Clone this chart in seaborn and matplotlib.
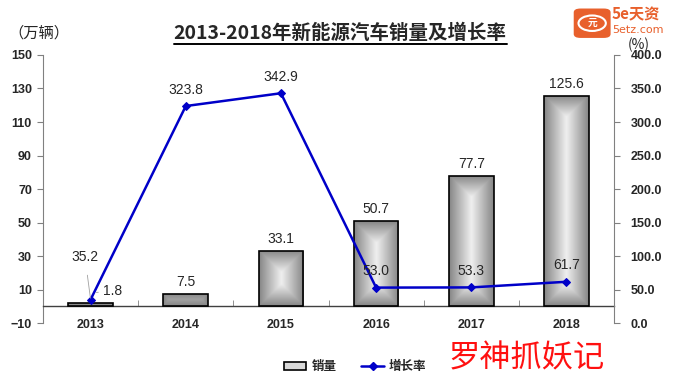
import numpy as np
import pandas as pd
import matplotlib
matplotlib.use('Agg')
import matplotlib.pyplot as plt
import seaborn as sns
from matplotlib.lines import Line2D
from matplotlib.patches import Patch, FancyBboxPatch, Circle
from matplotlib.ticker import FixedLocator, FormatStrFormatter

# 数据
years = ['2013', '2014', '2015', '2016', '2017', '2018']
sales = [1.8, 7.5, 33.1, 50.7, 77.7, 125.6]          # 万辆
growth = [35.2, 323.8, 342.9, 53.0, 53.3, 61.7]      # %

df = pd.DataFrame({'年份': years, '销量': sales, '增长率': growth})

sns.set_style('white')
plt.rcParams['font.family'] = ['Liberation Sans', 'Noto Sans CJK SC', 'DejaVu Sans']
cjk = ['Noto Sans CJK SC', 'DejaVu Sans']

fig = plt.figure(figsize=(6.83, 3.87), dpi=100)
ax = fig.add_axes([0.063, 0.165, 0.836, 0.693])

sns.barplot(data=df, x='年份', y='销量', ax=ax, width=0.47,
            facecolor='none', edgecolor='black', linewidth=1.2, zorder=4)

ax.set_ylim(-10, 150)
ax.set_xlim(-0.5, 5.5)
ax.set_yticks(np.arange(-10, 151, 20))
ax.set_xlabel('')
ax.set_ylabel('')

# 渐变填充柱子
fig.canvas.draw()
for p in ax.patches:
    x0, y0 = p.get_x(), p.get_y()
    w, h = p.get_width(), p.get_height()
    (px0, py0), (px1, py1) = ax.transData.transform([(x0, y0), (x0 + w, y0 + h)])
    wp, hp = max(int(abs(px1 - px0)), 2), max(int(abs(py1 - py0)), 2)
    xx, yy = np.meshgrid(np.arange(wp) + 0.5, np.arange(hp) + 0.5)
    d = np.minimum(np.minimum(xx, wp - xx), np.minimum(yy, hp - yy))
    t = np.clip(d / (wp / 2.0), 0, 1)
    g = 0.52 + 0.42 * t
    img = np.dstack([g, g, g])
    im = ax.imshow(img, extent=[x0, x0 + w, y0, y0 + h], origin='lower',
                   aspect='auto', zorder=3, interpolation='bilinear')
    im.set_clip_path(p)
    # 阴影
    sh = FancyBboxPatch((x0, y0), w, h, boxstyle='square,pad=0', transform=ax.transData,
                        facecolor='#b0b0b0', edgecolor='none', alpha=0.45, zorder=2)
    ax.add_patch(sh)
ax.set_xlim(-0.5, 5.5)
ax.set_ylim(-10, 150)

# 坐标轴样式
for s in ['top', 'right']:
    ax.spines[s].set_visible(False)
ax.spines['left'].set_color('#808080')
ax.spines['bottom'].set_position(('data', 0))
ax.spines['bottom'].set_color('#404040')
ax.spines['bottom'].set_linewidth(1.0)
ax.tick_params(axis='y', direction='out', length=4, color='#808080', left=True,
               labelsize=9, pad=4)
ax.tick_params(axis='x', which='major', length=0, labelsize=9, pad=9)
ax.xaxis.set_minor_locator(FixedLocator([0.5, 1.5, 2.5, 3.5, 4.5]))
ax.tick_params(axis='x', which='minor', direction='in', length=4, color='#808080', bottom=True)
for lab in ax.get_yticklabels() + ax.get_xticklabels():
    lab.set_fontweight('bold')

# 增长率折线
ax2 = ax.twinx()
sns.lineplot(data=df, x='年份', y='增长率', ax=ax2, color='#0000C8', linewidth=1.8,
             marker='D', markersize=4.5, markeredgecolor='#0000C8', sort=False, zorder=6)
ax2.set_ylim(0, 400)
ax2.set_yticks(np.arange(0, 401, 50))
ax2.yaxis.set_major_formatter(FormatStrFormatter('%.1f'))
ax2.set_ylabel('')
ax2.set_xlabel('')
for s in ['top', 'left', 'bottom']:
    ax2.spines[s].set_visible(False)
ax2.spines['right'].set_color('#808080')
ax2.tick_params(axis='y', direction='out', length=4, color='#808080', right=True,
                labelsize=9, pad=8)
for lab in ax2.get_yticklabels():
    lab.set_fontweight('bold')
ax2.set_zorder(ax.get_zorder() + 1)
ax2.patch.set_visible(False)

# 柱子数值标签
for i, v in enumerate(sales):
    if i == 0:
        ax.annotate(f'{v:.1f}', xy=(i + 0.06, v + 6.5), xytext=(i + 0.13, v + 7.5),
                    fontsize=10, ha='left', va='center',
                    arrowprops=dict(arrowstyle='-', color='#a0a0a0', lw=0.6,
                                    shrinkA=1, shrinkB=0), zorder=8)
    else:
        ax.text(i, v + 3, f'{v:.1f}', ha='center', va='bottom', fontsize=10, zorder=8)

# 折线数值标签
for i, v in enumerate(growth):
    if i == 0:
        ax2.annotate(f'{v:.1f}', xy=(i, v), xytext=(i - 0.06, v + 64),
                     fontsize=10, ha='center', va='center',
                     arrowprops=dict(arrowstyle='-', color='#a0a0a0', lw=0.6,
                                     shrinkA=6, shrinkB=1), zorder=8)
    else:
        ax2.text(i, v + 14, f'{v:.1f}', ha='center', va='bottom', fontsize=10, zorder=8)

# 标题与单位
title = fig.text(0.498, 0.915, '2013-2018年新能源汽车销量及增长率', ha='center', va='center',
                 fontsize=14, fontweight='bold', family=cjk)
fig.canvas.draw()
bb = title.get_window_extent().transformed(fig.transFigure.inverted())
fig.add_artist(Line2D([bb.x0, bb.x1], [bb.y0 - 0.004, bb.y0 - 0.004],
                      transform=fig.transFigure, color='black', lw=1.4))
fig.text(0.012, 0.915, '（万辆）', ha='left', va='center', fontsize=11, family=cjk)
fig.text(0.935, 0.885, '(%)', ha='center', va='center', fontsize=10, family=cjk)

# 图例
handles = [Patch(facecolor='#d8d8d8', edgecolor='black', linewidth=1.2),
           Line2D([0], [0], color='#0000C8', lw=1.8, marker='D', markersize=4)]
fig.legend(handles, ['销量', '增长率'], loc='center', bbox_to_anchor=(0.52, 0.052),
           ncol=2, frameon=False, prop={'family': cjk, 'size': 9, 'weight': 'bold'},
           handlelength=1.8, handleheight=0.6, columnspacing=2.0, handletextpad=0.4)

# 水印
fig.text(0.771, 0.075, '罗神抓妖记', ha='center', va='center', fontsize=22.5,
         color='#FF1010', family=cjk)
logo = FancyBboxPatch((0.843, 0.905), 0.048, 0.07, boxstyle='round,pad=0.003,rounding_size=0.01',
                      transform=fig.transFigure, facecolor='#E8602C', edgecolor='none')
fig.add_artist(logo)
fig.add_artist(Circle((0.867, 0.94), 0.02, transform=fig.transFigure, facecolor='none',
                      edgecolor='white', lw=1.5))
fig.text(0.867, 0.94, '元', ha='center', va='center', fontsize=7, color='white',
         fontweight='bold', family=cjk)
fig.text(0.896, 0.962, '5e天资', ha='left', va='center', fontsize=11, color='#E8602C',
         fontweight='bold', family=cjk)
fig.text(0.897, 0.922, '5etz.com', ha='left', va='center', fontsize=8, color='#E8602C',
         family=['DejaVu Sans'])

plt.savefig('out.png', dpi=100)
